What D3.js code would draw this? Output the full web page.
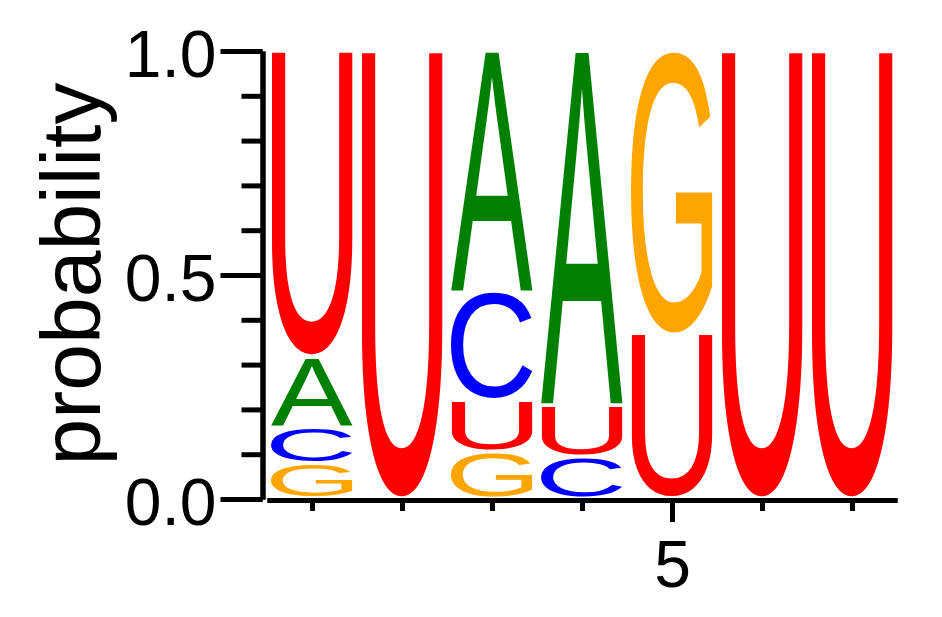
<!DOCTYPE html>
<html>
<head>
<meta charset="utf-8">
<script src="https://cdn.jsdelivr.net/npm/d3@7"></script>
<style>
  body { margin: 0; background: #fff; }
  text { font-family: "Liberation Sans", Arial, sans-serif; }
</style>
</head>
<body>
<div id="chart"></div>
<script>
// sequence positions and per-letter probabilities
var positions = [1, 2, 3, 4, 5, 6, 7];
var letters = ['A', 'C', 'G', 'U'];
var probA = [0.157, 0, 0.540, 0.792, 0, 0, 0];
var probC = [0.081, 0, 0.242, 0.093, 0, 0, 0];
var probG = [0.079, 0, 0.104, 0, 0.634, 0, 0];
var probU = [0.683, 1, 0.114, 0.115, 0.366, 1, 1];
var yMajorTicks = [0, 0.5, 1];
var yMinorTicks = [0, 0.1, 0.2, 0.3, 0.4, 0.5, 0.6, 0.7, 0.8, 0.9, 1];
var xMajorTicks = [5];

var colors = { A: '#008000', C: '#0000ff', G: '#ffa500', U: '#ff0000' };
var probs = { A: probA, C: probC, G: probG, U: probU };

var width = 942, height = 617;
var font = '"Liberation Sans", Arial, sans-serif';

var svg = d3.select('#chart').append('svg')
    .attr('width', width)
    .attr('height', height);

var x = d3.scaleLinear().domain([0.5, 7.5]).range([267, 897]);
var y = d3.scaleLinear().domain([0, 1]).range([499, 51]);

// tight glyph bounds, measured once per letter
var ctx = document.createElement('canvas').getContext('2d');
ctx.font = '100px ' + font;
var metrics = {};
letters.forEach(function(l) {
    var m = ctx.measureText(l);
    metrics[l] = {
        left: m.actualBoundingBoxLeft,
        right: m.actualBoundingBoxRight,
        ascent: m.actualBoundingBoxAscent,
        descent: m.actualBoundingBoxDescent
    };
});

// stacks: smallest at the bottom
var stacks = positions.map(function(pos, i) {
    var items = letters
        .map(function(l) { return { letter: l, p: probs[l][i] }; })
        .filter(function(d) { return d.p > 0; })
        .sort(function(a, b) { return a.p - b.p; });
    var cum = 0;
    items.forEach(function(d) {
        d.y0 = cum;
        cum += d.p;
        d.y1 = cum;
        d.pos = pos;
    });
    return items;
});

var glyphHalf = 41;
var logo = svg.append('g').attr('class', 'logo');

stacks.forEach(function(items) {
    logo.selectAll(null)
        .data(items)
        .enter()
        .append('text')
        .text(function(d) { return d.letter; })
        .attr('fill', function(d) { return colors[d.letter]; })
        .style('font-size', '100px')
        .attr('transform', function(d) {
            var m = metrics[d.letter],
                x0 = x(d.pos) - glyphHalf,
                w = glyphHalf * 2,
                top = y(d.y1) + 1,
                bottom = y(d.y0) - 2.5,
                sx = w / (m.left + m.right),
                sy = (bottom - top) / (m.ascent + m.descent);
            return 'translate(' + (x0 + m.left * sx) + ',' + (bottom - m.descent * sy) + ') scale(' + sx + ',' + sy + ')';
        });
});

// y axis
var yMinor = svg.append('g')
    .attr('transform', 'translate(262.5,0)')
    .call(d3.axisLeft(y).tickValues(yMinorTicks).tickSize(21).tickSizeOuter(0).tickFormat(''));
var yMajor = svg.append('g')
    .attr('transform', 'translate(262.5,0)')
    .call(d3.axisLeft(y).tickValues(yMajorTicks).tickSize(42).tickSizeOuter(0).tickPadding(4)
        .tickFormat(d3.format('.1f')));
yMajor.selectAll('text')
    .attr('dy', '0.38em')
    .style('font-size', '66px')
    .style('font-family', font)
    .attr('fill', '#000');

// x axis
var xMinor = svg.append('g')
    .attr('transform', 'translate(0,500)')
    .call(d3.axisBottom(x).tickValues(positions).tickSize(11).tickSizeOuter(0).tickFormat(''));
var xMajor = svg.append('g')
    .attr('transform', 'translate(0,500)')
    .call(d3.axisBottom(x).tickValues(xMajorTicks).tickSize(22).tickSizeOuter(0).tickPadding(18)
        .tickFormat(d3.format('d')));
xMajor.selectAll('text')
    .style('font-size', '66px')
    .style('font-family', font)
    .attr('fill', '#000');

svg.selectAll('.domain, .tick line')
    .attr('stroke', '#000')
    .attr('stroke-width', 5);

// axis label
svg.append('text')
    .attr('transform', 'translate(100,274) rotate(-90)')
    .attr('text-anchor', 'middle')
    .style('font-size', '84px')
    .style('font-family', font)
    .attr('fill', '#000')
    .text('probability');
</script>
</body>
</html>
